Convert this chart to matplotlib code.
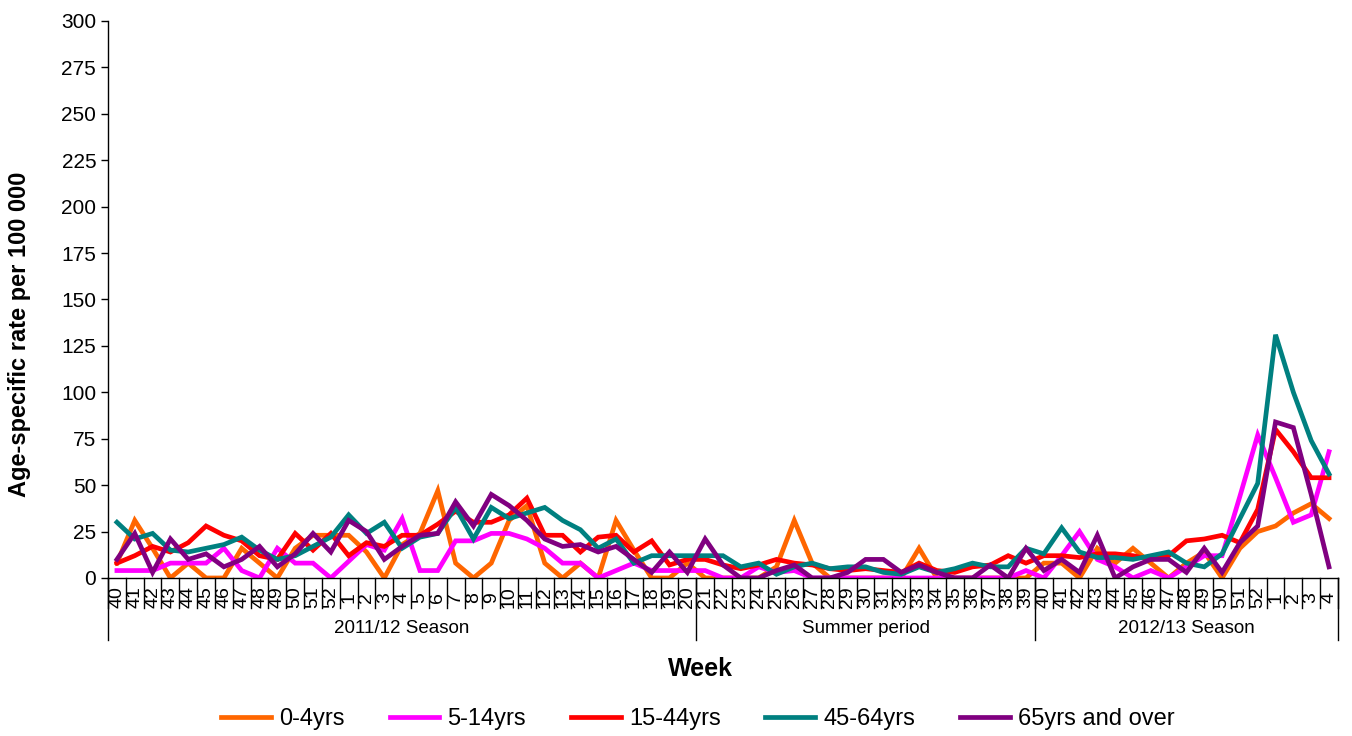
import matplotlib
matplotlib.use("Agg")
import matplotlib.pyplot as plt
import matplotlib.transforms as mtransforms
import numpy as np

plt.rcParams["font.family"] = ["Liberation Sans", "DejaVu Sans"]

# week labels: 2011/12 season (wk40-wk20), summer (wk21-wk39), 2012/13 season (wk40-wk4)
weeks = ([str(w) for w in range(40, 53)] + [str(w) for w in range(1, 21)]
         + [str(w) for w in range(21, 40)]
         + [str(w) for w in range(40, 53)] + [str(w) for w in range(1, 5)])

groups = ["2011/12 Season", "Summer period", "2012/13 Season"]
group_sizes = [33, 19, 17]

age_0_4 = [8, 31, 16, 0, 8, 0, 0, 16, 8, 0, 16, 23, 23, 23, 14, 0, 18, 24, 47, 8,
           0, 8, 31, 39, 8, 0, 8, 0, 31, 15, 0, 0, 8,
           0, 0, 0, 0, 6, 31, 8, 0, 0, 0, 0, 0, 16, 0, 0, 0, 0, 0, 0,
           8, 8, 0, 16, 8, 16, 8, 0, 8, 14, 0, 16, 25, 28, 35, 40, 32]

age_5_14 = [4, 4, 4, 8, 8, 8, 16, 4, 0, 16, 8, 8, 0, 9, 18, 15, 32, 4, 4, 20,
            20, 24, 24, 21, 16, 8, 8, 0, 4, 8, 4, 4, 4,
            4, 0, 0, 6, 3, 4, 0, 0, 0, 0, 0, 0, 0, 0, 0, 0, 0, 0, 4,
            0, 12, 25, 10, 6, 0, 4, 0, 6, 12, 12, 44, 77, 54, 30, 34, 68]

age_15_44 = [8, 12, 17, 14, 19, 28, 23, 20, 12, 10, 24, 15, 24, 12, 19, 17, 23, 23, 29, 36,
             30, 30, 34, 43, 23, 23, 14, 22, 23, 14, 20, 7, 10,
             10, 7, 5, 7, 10, 8, 7, 5, 4, 5, 4, 3, 8, 4, 3, 6, 7, 12, 8,
             12, 12, 11, 13, 13, 12, 10, 12, 20, 21, 23, 19, 37, 80, 68, 54, 54]

age_45_64 = [30, 21, 24, 15, 14, 16, 18, 22, 15, 10, 12, 17, 22, 34, 24, 30, 16, 22, 24, 38,
             21, 38, 32, 35, 38, 31, 26, 16, 21, 8, 12, 12, 12,
             12, 12, 6, 8, 2, 6, 8, 5, 6, 6, 3, 2, 6, 3, 5, 8, 6, 6, 16,
             13, 27, 14, 11, 11, 10, 12, 14, 8, 6, 13, 32, 51, 131, 100, 74, 56]

age_65_over = [10, 24, 3, 21, 10, 13, 6, 10, 17, 6, 13, 24, 14, 31, 25, 10, 17, 23, 24, 41,
               28, 45, 39, 31, 21, 17, 18, 14, 17, 10, 3, 14, 3,
               21, 7, 0, 0, 4, 7, 0, 0, 3, 10, 10, 3, 7, 3, 0, 0, 7, 0, 16,
               4, 10, 3, 23, 0, 6, 10, 10, 3, 16, 3, 19, 28, 84, 81, 45, 6]

series = [
    ("0-4yrs", age_0_4, "#FF6600"),
    ("5-14yrs", age_5_14, "#FF00FF"),
    ("15-44yrs", age_15_44, "#FF0000"),
    ("45-64yrs", age_45_64, "#008080"),
    ("65yrs and over", age_65_over, "#800080"),
]

fig = plt.figure(figsize=(13.52, 7.36), dpi=100)
ax = fig.add_axes([0.0799, 0.2147, 0.9097, 0.7568])

x = np.arange(len(weeks))
for name, vals, col in series:
    ax.plot(x, vals, color=col, lw=3.4, label=name, solid_joinstyle="miter")

ax.set_xlim(-0.5, len(weeks) - 0.5)
ax.set_ylim(0, 300)
ax.set_yticks(np.arange(0, 301, 25))
ax.tick_params(axis="y", labelsize=15, direction="out", length=5, width=1)
ax.set_xticks(x)
ax.set_xticklabels(weeks, rotation=90, fontsize=14, va="center")
ax.tick_params(axis="x", length=0, pad=14)

for s in ["top", "right"]:
    ax.spines[s].set_visible(False)
for s in ["left", "bottom"]:
    ax.spines[s].set_linewidth(1)

# category cell separators below the axis
trans = mtransforms.blended_transform_factory(ax.transData, ax.transAxes)
for b in np.arange(-0.5, len(weeks), 1.0):
    ax.plot([b, b], [0, -0.054], transform=trans, color="black", lw=1, clip_on=False)

start = -0.5
for name, n in zip(groups, group_sizes):
    end = start + n
    ax.plot([start, start], [0, -0.111], transform=trans, color="black", lw=1, clip_on=False)
    ax.text((start + end) / 2, -0.09, name, transform=trans, ha="center", va="center", fontsize=13.5)
    start = end
ax.plot([start, start], [0, -0.111], transform=trans, color="black", lw=1, clip_on=False)

fig.text(20 / 1352, 1 - 334 / 736, "Age-specific rate per 100 000", rotation=90,
         ha="center", va="center", fontsize=17, fontweight="bold")
fig.text(700 / 1352, 1 - 669 / 736, "Week", ha="center", va="center", fontsize=18, fontweight="bold")

fig.legend(loc="center", bbox_to_anchor=(698 / 1352, 1 - 719 / 736), ncol=5, frameon=False,
           fontsize=17, handlelength=2.1, handletextpad=0.35, columnspacing=1.9)

fig.savefig("out.png", dpi=100)
